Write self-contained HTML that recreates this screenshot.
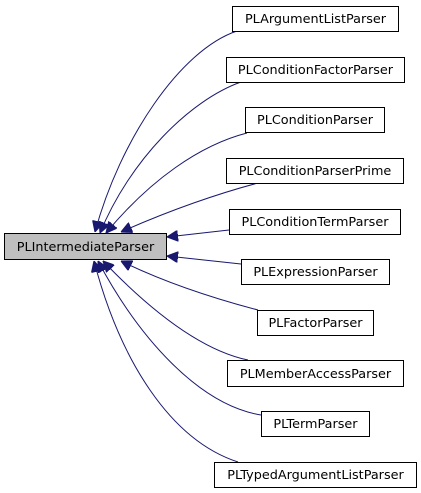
<!DOCTYPE html>
<html><head><meta charset="utf-8"><style>
html,body{margin:0;padding:0;background:#fff;}
svg{display:block;}
text{font-family:"DejaVu Sans","Liberation Sans",sans-serif;font-size:12.8px;fill:#000;}
</style></head><body>
<svg width="421" height="493" viewBox="0 0 421 493" xmlns="http://www.w3.org/2000/svg">
<defs>
<marker id="a" viewBox="0 0 10 10" refX="10" refY="5" markerWidth="11" markerHeight="11" markerUnits="userSpaceOnUse" orient="auto">
<path d="M0,0 L10,5 L0,10 z" fill="#191970" stroke="#191970"/>
</marker>
</defs>
<g fill="none" stroke="#191970" stroke-width="1" marker-end="url(#a)">
<path d="M237,31 C180,50 120,140 95,232"/>
<path d="M241,82 C190,100 130,160 100,233"/>
<path d="M247,133 C200,145 150,180 106,233"/>
<path d="M258,183 C220,193 170,210 121,232"/>
<path d="M229,230 L167,237"/>
<path d="M241,264 L167,256"/>
<path d="M258,310 C220,300 170,285 121,261"/>
<path d="M248,360 C200,350 150,310 103,261"/>
<path d="M261,415 C200,405 140,340 98,261"/>
<path d="M238,462 C170,440 120,360 94,261"/>
</g>
<g stroke="#000" stroke-width="1">
<rect x="4.5" y="233.5" width="162" height="26" fill="#bfbfbf"/>
<rect x="232.5" y="6.5" width="166" height="25" fill="#fff"/>
<rect x="226.5" y="57.5" width="178" height="25" fill="#fff"/>
<rect x="245.5" y="107.5" width="139" height="25" fill="#fff"/>
<rect x="226.5" y="158.5" width="177" height="25" fill="#fff"/>
<rect x="229.5" y="209.5" width="171" height="25" fill="#fff"/>
<rect x="241.5" y="259.5" width="148" height="25" fill="#fff"/>
<rect x="257.5" y="310.5" width="116" height="25" fill="#fff"/>
<rect x="227.5" y="360.5" width="176" height="26" fill="#fff"/>
<rect x="261.5" y="411.5" width="108" height="25" fill="#fff"/>
<rect x="214.5" y="462.5" width="202" height="25" fill="#fff"/>
</g>
<g text-anchor="middle">
<text x="85.5" y="251">PLIntermediateParser</text>
<text x="315.5" y="23">PLArgumentListParser</text>
<text x="315.5" y="74">PLConditionFactorParser</text>
<text x="315" y="124">PLConditionParser</text>
<text x="315" y="175">PLConditionParserPrime</text>
<text x="315" y="226">PLConditionTermParser</text>
<text x="315.5" y="276">PLExpressionParser</text>
<text x="315.5" y="327">PLFactorParser</text>
<text x="315.5" y="378">PLMemberAccessParser</text>
<text x="315.5" y="428">PLTermParser</text>
<text x="315.5" y="479">PLTypedArgumentListParser</text>
</g>
</svg>
</body></html>
